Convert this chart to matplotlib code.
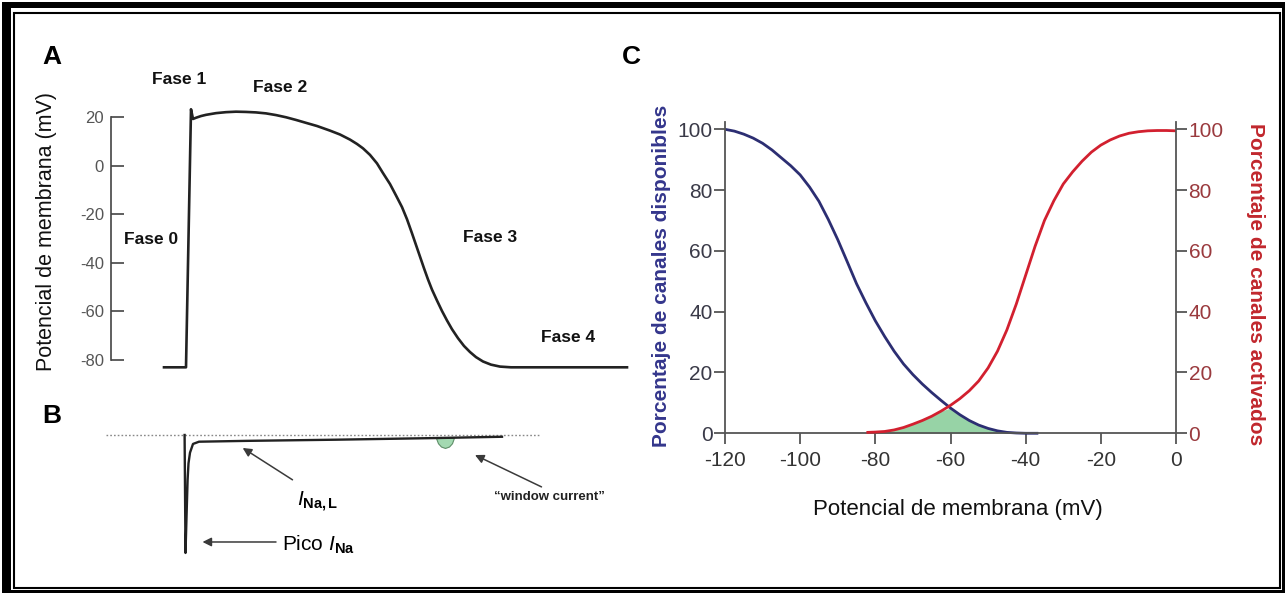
import matplotlib
matplotlib.use("Agg")
import matplotlib.pyplot as plt
import numpy as np
from matplotlib import font_manager as fm
from matplotlib.patches import Rectangle

# ---------------- data ----------------
# Panel A: action potential (time in ms, voltage in mV)
ap_t = [-22, 0, 5, 7, 10, 15, 20, 30, 40, 50, 60, 70, 80, 90, 100, 110, 120, 131,
        144, 154, 164, 171, 177, 184, 191, 197, 204, 210, 216, 221, 226, 230, 234,
        238, 242, 246, 251, 256, 261, 266, 272, 278, 284, 290, 297, 305, 314, 325, 441]
ap_v = [-83.0, -83.0, 23.3, 19.3, 19.8, 20.5, 21.0, 21.7, 22.1, 22.3, 22.2, 22.0,
        21.6, 20.9, 20.0, 18.9, 17.7, 16.4, 14.5, 12.9, 10.8, 9.0, 7.2, 4.5, 1.0,
        -3.0, -7.5, -12.2, -17.0, -22.0, -27.8, -32.6, -37.4, -42.2, -46.8, -51.0,
        -55.5, -59.8, -63.7, -67.3, -71.0, -74.2, -76.7, -78.8, -80.6, -81.9, -82.7,
        -83.0, -83.0]
ap_yticks = [20, 0, -20, -40, -60, -80]

# Panel B: sodium current (relative units)
ina_t = [-1.4, -0.5, 0.5, 1.6, 2.5, 4.0, 7.0, 13, 60, 150, 250, 316]
ina_i = [0, -100, -70, -38, -24, -15, -7.6, -5.7, -5.0, -4.0, -2.6, -1.5]
win_t = [250, 252, 255, 259, 263, 266, 268]
win_low = [-2.6, -7.0, -9.8, -11.0, -9.8, -7.0, -2.3]
win_top = [-2.6, -2.6, -2.5, -2.5, -2.5, -2.4, -2.3]
base_t = [-80, 355]
base_i = [0, 0]

# Panel C: availability (blue) and activation (red) curves
inact_v = [-120, -117.5, -115, -112.5, -110, -107.5, -105, -102.5, -100, -97.5, -95,
           -92.5, -90, -87.5, -85, -82.5, -80, -77.5, -75, -72.5, -70, -67.5, -65,
           -62.5, -60, -57.5, -55, -52.5, -50, -47.5, -45, -42.5, -40, -37]
inact_p = [100, 99.4, 98.4, 97.1, 95.4, 93.2, 90.6, 88.0, 85.0, 81.0, 76.3, 70.3,
           63.7, 56.5, 49.2, 42.9, 37.0, 31.8, 27.0, 22.8, 19.3, 16.2, 13.4, 10.8,
           8.3, 6.1, 4.2, 2.7, 1.6, 0.8, 0.3, 0.1, 0.0, 0.0]
act_v = [-82, -80, -77.5, -75, -72.5, -70, -67.5, -65, -62.5, -60, -57.5, -55, -52.5,
         -50, -47.5, -45, -42.5, -40, -37.5, -35, -32.5, -30, -27.5, -25, -22.5, -20,
         -17.5, -15, -12.5, -10, -7.5, -5, -2.5, 0]
act_p = [0.3, 0.4, 0.6, 1.1, 1.9, 3.0, 4.2, 5.6, 7.3, 9.2, 11.4, 14.0, 17.2, 21.5,
         27.0, 34.0, 42.5, 52.0, 61.5, 70.0, 76.5, 82.0, 86.0, 89.5, 92.5, 94.8, 96.5,
         97.8, 98.7, 99.2, 99.5, 99.6, 99.6, 99.5]
# window region (common grid)
win_v = [-80, -77.5, -75, -72.5, -70, -67.5, -65, -62.5, -60, -57.5, -55, -52.5, -50,
         -47.5, -45, -42.5, -40]
win_blue = [37.0, 31.8, 27.0, 22.8, 19.3, 16.2, 13.4, 10.8, 8.3, 6.1, 4.2, 2.7, 1.6,
            0.8, 0.3, 0.1, 0.0]
win_red = [0.4, 0.6, 1.1, 1.9, 3.0, 4.2, 5.6, 7.3, 9.2, 11.4, 14.0, 17.2, 21.5, 27.0,
           34.0, 42.5, 52.0]
c_xticks = [-120, -100, -80, -60, -40, -20, 0]
c_yticks = [0, 20, 40, 60, 80, 100]

# ---------------- fonts ----------------
avail = {f.name for f in fm.fontManager.ttflist}
NARROW = 'Liberation Sans Narrow' if 'Liberation Sans Narrow' in avail else 'Liberation Sans'
SANS = 'Liberation Sans' if 'Liberation Sans' in avail else 'DejaVu Sans'
plt.rcParams['font.family'] = [SANS, 'DejaVu Sans']
plt.rcParams['axes.unicode_minus'] = False
plt.rcParams['mathtext.fontset'] = 'custom'
plt.rcParams['mathtext.rm'] = SANS
plt.rcParams['mathtext.it'] = SANS + ':italic'
plt.rcParams['mathtext.bf'] = SANS + ':bold'

W, H = 1285, 595
fig = plt.figure(figsize=(W / 100, H / 100), dpi=100)
fig.patch.set_facecolor('white')


def fx(px):
    return px / W


def fy(py):
    return 1 - py / H


# ---------------- border ----------------
for (x0, y0, x1, y1) in [(2, 2, 11, 593), (2, 2, 1285, 8), (1282, 2, 1285, 593), (2, 590, 1285, 593)]:
    fig.add_artist(Rectangle((fx(x0), fy(y1)), fx(x1) - fx(x0), fy(y0) - fy(y1),
                             transform=fig.transFigure, facecolor='black', edgecolor='none'))
fig.add_artist(Rectangle((fx(13.5), fy(587.5)), fx(1280) - fx(13.5), fy(13) - fy(587.5),
                         transform=fig.transFigure, facecolor='none', edgecolor='black', lw=1.5))

GRAY = '#444444'

# ---------------- Panel A ----------------
axA = fig.add_axes([fx(104), fy(374.6), fx(631) - fx(104), (374.6 - 102.7) / H])
axA.plot(ap_t, ap_v, color='#222222', lw=1.9, solid_joinstyle='round')
axA.set_xlim(-82, 445)
axA.set_ylim(-86, 26)
for s in ['top', 'right', 'bottom']:
    axA.spines[s].set_visible(False)
axA.spines['left'].set_position(('data', -75))
axA.spines['left'].set_bounds(-80, 20)
axA.spines['left'].set_color(GRAY)
axA.spines['left'].set_linewidth(1.2)
axA.set_xticks([])
axA.set_yticks(ap_yticks)
axA.tick_params(axis='y', direction='in', length=9, width=1.2, color=GRAY,
                labelcolor='#555555', labelsize=12, pad=5)
axA.patch.set_alpha(0)

fase_kw = dict(fontfamily=NARROW, fontweight='bold', fontsize=12.5, color='#111111',
               ha='center', va='center')
fig.text(fx(179), fy(79), 'Fase 1', **fase_kw)
fig.text(fx(280), fy(88), 'Fase 2', **fase_kw)
fig.text(fx(151), fy(240), 'Fase 0', **fase_kw)
fig.text(fx(490), fy(238), 'Fase 3', **fase_kw)
fig.text(fx(568), fy(337), 'Fase 4', **fase_kw)
fig.text(fx(47), fy(232), 'Potencial de membrana (mV)', rotation=90, fontsize=15.5,
         ha='center', va='center', color='#111111')

# ---------------- Panel B ----------------
axB = fig.add_axes([fx(104), fy(562.4), fx(631) - fx(104), (562.4 - 427.9) / H])
axB.plot(base_t, base_i, color='#888888', lw=1.0, ls=(0, (1.2, 1.5)))
axB.fill_between(win_t, win_low, win_top, color='#a3d9b1', edgecolor='#5f8f69', lw=0.8)
axB.plot(ina_t, ina_i, color='#222222', lw=1.7)
axB.set_xlim(-82, 445)
axB.set_ylim(-108, 6)
axB.axis('off')

arrow_kw = dict(arrowstyle='-|>', color='#3a3a3a', lw=1.1, mutation_scale=13,
                shrinkA=0, shrinkB=0)
axB.annotate('', xy=(56.7, -11), xytext=(106.5, -38), arrowprops=arrow_kw)
axB.annotate('', xy=(16.5, -90.7), xytext=(90, -90.7), arrowprops=arrow_kw)
axB.annotate('', xy=(289, -17), xytext=(355.5, -44), arrowprops=arrow_kw)
axB.text(111, -56.8, r'$\mathit{I}_{\mathbf{Na,L}}$', fontsize=15, ha='left', va='center')
axB.text(96, -93, r'Pico $\mathit{I}_{\mathbf{Na}}$', fontsize=15, ha='left', va='center')
axB.text(363, -52.5, '\u201cwindow current\u201d', fontfamily=NARROW, fontweight='bold',
         fontsize=9.5, ha='center', va='center', color='#222222')

# panel letters
fig.text(fx(42), fy(57), 'A', fontsize=19, fontweight='bold', ha='left', va='center')
fig.text(fx(42), fy(416), 'B', fontsize=19, fontweight='bold', ha='left', va='center')
fig.text(fx(622), fy(57), 'C', fontsize=19, fontweight='bold', ha='left', va='center')

# ---------------- Panel C ----------------
BLUE = '#2c2e72'
RED = '#d2202f'
axC = fig.add_axes([fx(725), fy(442.4), fx(1176) - fx(725), (442.4 - 121.7) / H])
axC.fill_between(win_v, 0, np.minimum(win_blue, win_red), color='#97d3a6', lw=0)
axC.plot(inact_v, inact_p, color=BLUE, lw=2.0)
axC.set_xlim(-120, 0)
axC.set_ylim(-3, 102.5)
axC.spines['top'].set_visible(False)
axC.spines['right'].set_visible(False)
axC.spines['bottom'].set_position(('data', 0))
axC.spines['left'].set_bounds(0, 102.5)
for s in ['left', 'bottom']:
    axC.spines[s].set_color('#555555')
    axC.spines[s].set_linewidth(1.3)
axC.set_xticks(c_xticks)
axC.set_xticklabels([str(v) for v in c_xticks])
axC.set_yticks(c_yticks)
axC.tick_params(axis='both', direction='out', length=8, width=1.3, color='#555555',
                labelsize=15)
axC.tick_params(axis='y', labelcolor='#3a3a48', pad=1)
axC.tick_params(axis='x', labelcolor='#333333', pad=5)
for lab in axC.get_xticklabels() + axC.get_yticklabels():
    lab.set_fontfamily(NARROW)
axC.patch.set_alpha(0)

axR = axC.twinx()
axR.plot(act_v, act_p, color=RED, lw=2.0)
axR.set_ylim(-3, 102.5)
for s in ['top', 'left', 'bottom']:
    axR.spines[s].set_visible(False)
axR.spines['right'].set_bounds(0, 102.5)
axR.spines['right'].set_color('#555555')
axR.spines['right'].set_linewidth(1.3)
axR.set_yticks(c_yticks)
axR.tick_params(axis='y', direction='out', length=8, width=1.3, color='#555555',
                labelsize=15, labelcolor='#9a3a3e', pad=1)
for lab in axR.get_yticklabels():
    lab.set_fontfamily(NARROW)

fig.text(fx(662), fy(276), 'Porcentaje de canales disponibles', rotation=90, fontsize=15,
         fontweight='bold', color='#34368c', ha='center', va='center')
fig.text(fx(1256), fy(284), 'Porcentaje de canales activados', rotation=270, fontsize=15,
         fontweight='bold', color='#c1272d', ha='center', va='center')
fig.text(fx(958), fy(509), 'Potencial de membrana (mV)', fontsize=16, ha='center',
         va='center', color='#111111')

fig.savefig('out.png', dpi=100)
